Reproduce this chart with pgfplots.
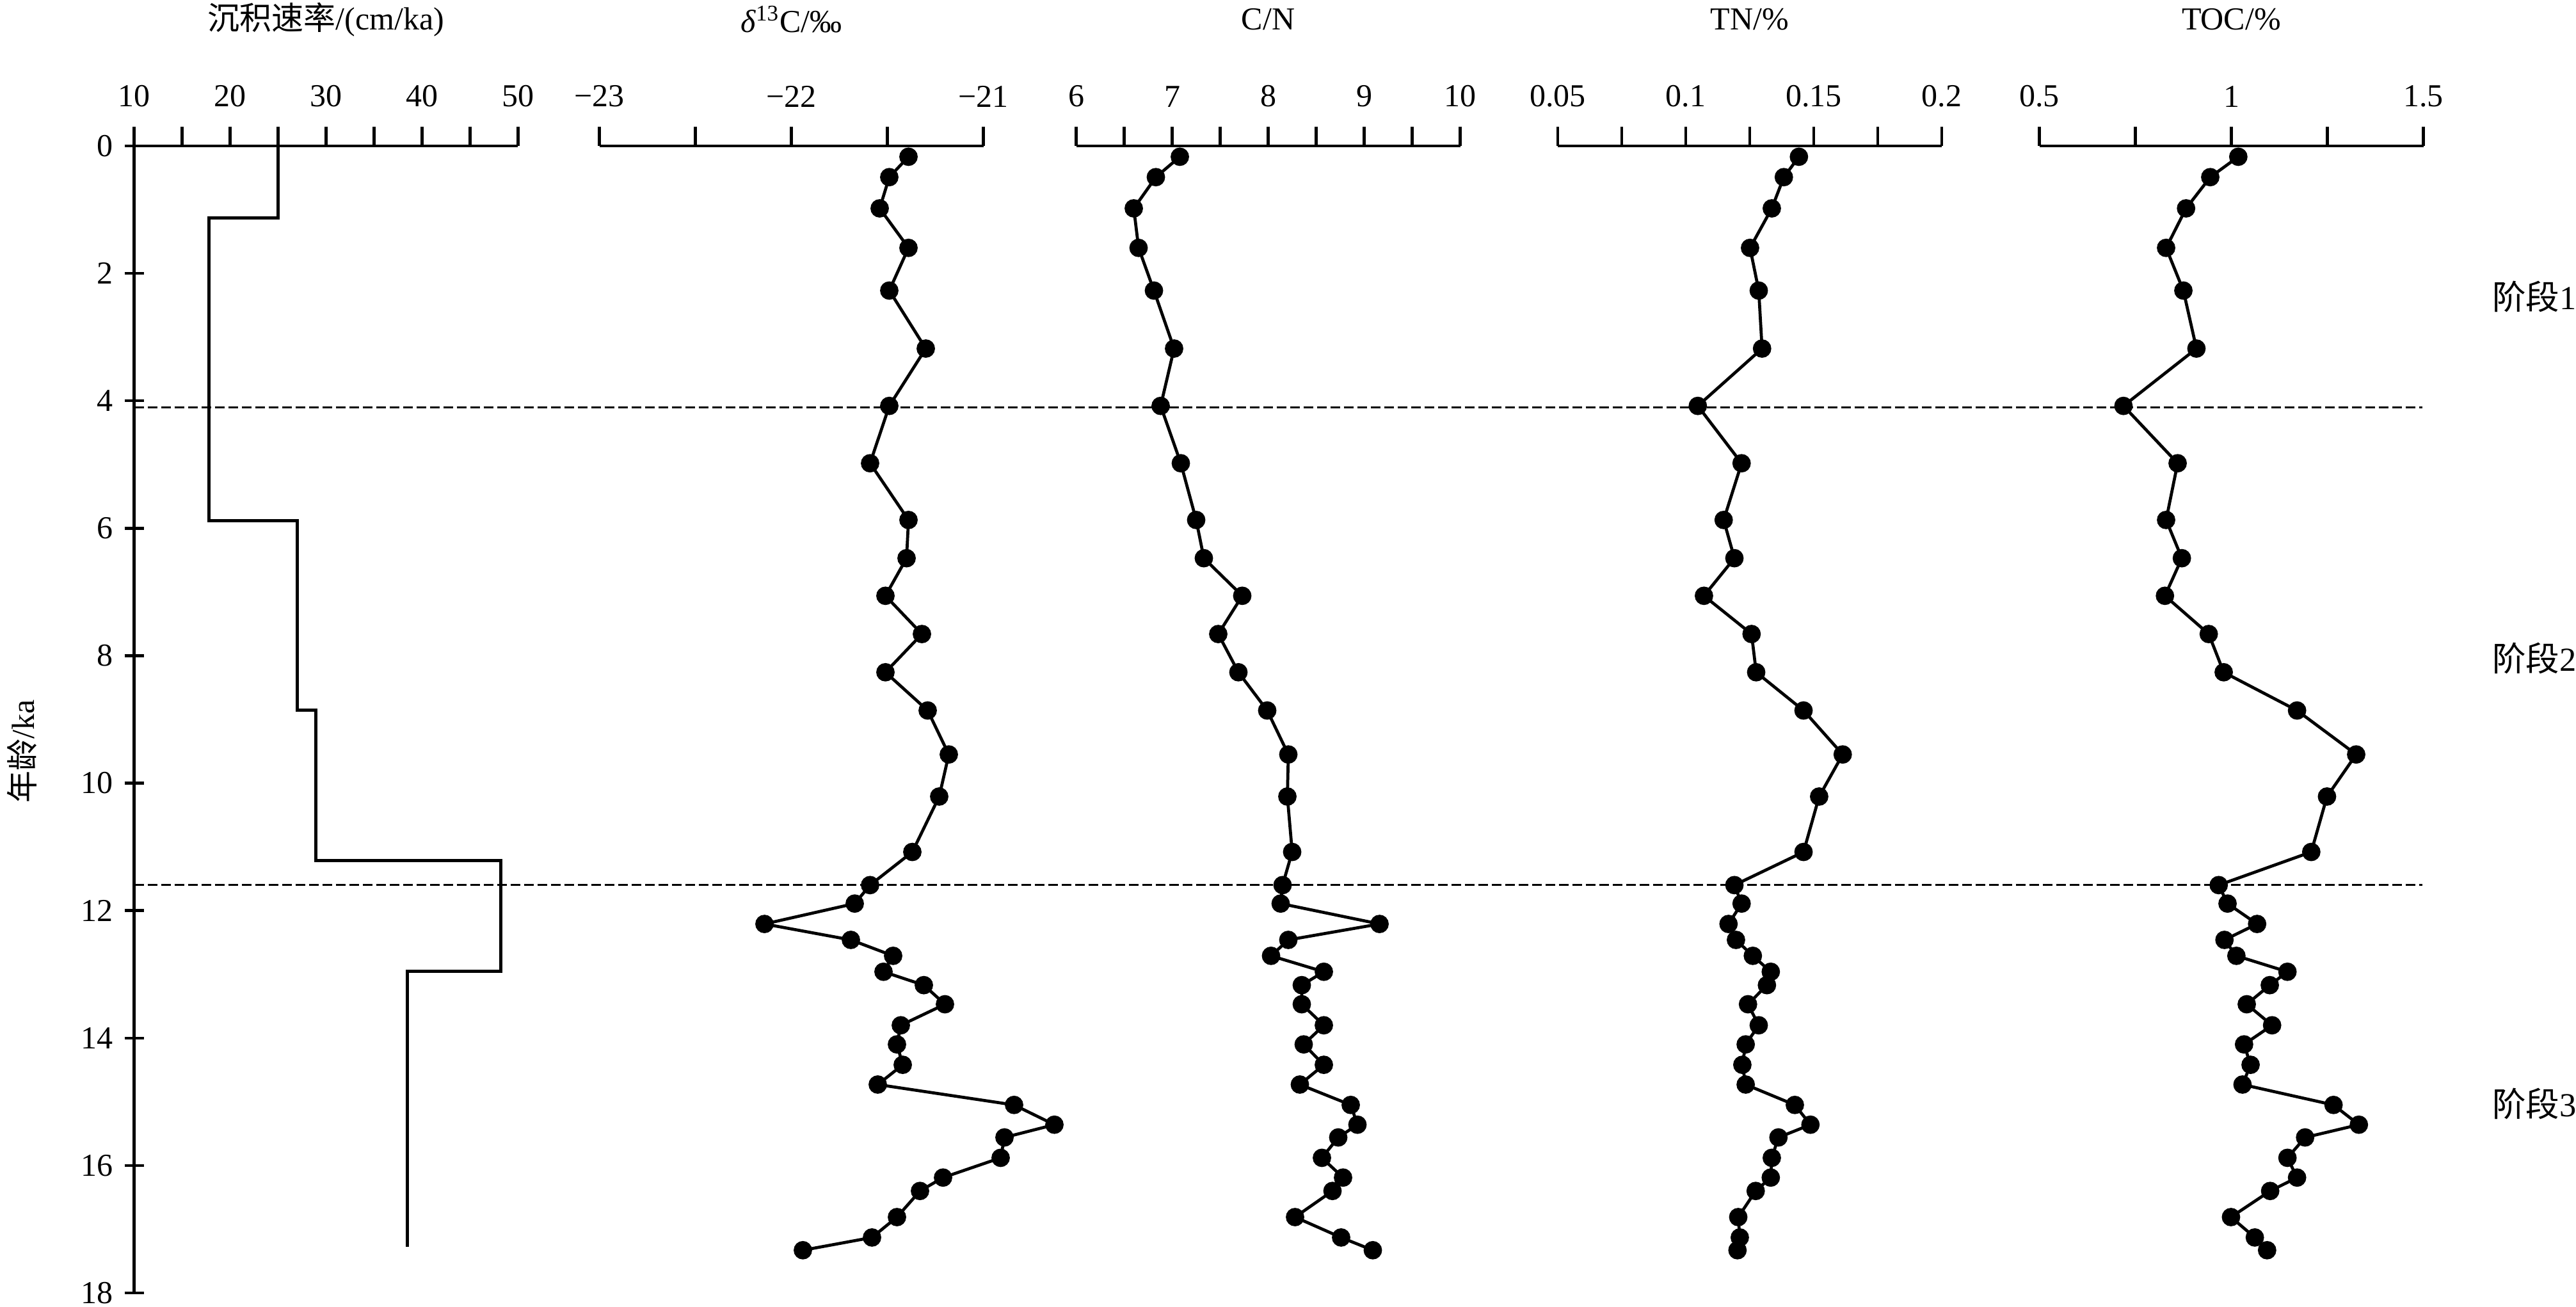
\documentclass[border=0pt]{standalone}
\usepackage{fontspec}
\setmainfont{Liberation Serif}
\newfontfamily\cjk{Noto Sans CJK SC}
\usepackage{pgfplots}
\pgfplotsset{compat=1.18}
\usepackage{pgfplotstable}

\pgfplotstableread{
age d13C CN TN TOC
0.17 -21.39 7.08 0.1442 1.018
0.49 -21.49 6.83 0.1383 0.945
0.98 -21.54 6.60 0.1336 0.882
1.60 -21.39 6.65 0.1251 0.830
2.27 -21.49 6.81 0.1285 0.875
3.18 -21.30 7.02 0.1298 0.909
4.08 -21.49 6.88 0.1047 0.719
4.98 -21.59 7.09 0.1218 0.860
5.87 -21.39 7.25 0.1148 0.830
6.47 -21.40 7.33 0.1190 0.871
7.06 -21.51 7.73 0.1071 0.827
7.66 -21.32 7.48 0.1257 0.941
8.26 -21.51 7.69 0.1275 0.980
8.86 -21.29 7.99 0.1460 1.171
9.55 -21.18 8.21 0.1613 1.325
10.21 -21.23 8.20 0.1521 1.249
11.08 -21.37 8.25 0.1460 1.208
11.60 -21.59 8.15 0.1190 0.967
11.89 -21.67 8.13 0.1218 0.990
12.21 -22.14 9.16 0.1167 1.067
12.46 -21.69 8.21 0.1196 0.982
12.71 -21.47 8.03 0.1262 1.013
12.96 -21.52 8.58 0.1332 1.146
13.17 -21.31 8.35 0.1317 1.100
13.47 -21.20 8.35 0.1243 1.040
13.80 -21.43 8.58 0.1285 1.106
14.10 -21.45 8.37 0.1234 1.033
14.42 -21.42 8.58 0.1221 1.050
14.73 -21.55 8.33 0.1234 1.029
15.05 -20.84 8.86 0.1426 1.266
15.36 -20.63 8.93 0.1487 1.332
15.56 -20.89 8.73 0.1362 1.192
15.88 -20.91 8.56 0.1336 1.146
16.19 -21.21 8.78 0.1332 1.171
16.40 -21.33 8.67 0.1273 1.101
16.81 -21.45 8.28 0.1205 0.999
17.13 -21.58 8.76 0.1211 1.061
17.33 -21.94 9.09 0.1202 1.093
}\data

\pgfplotsset{
  panel/.style={
    scale only axis, width=120pt, height=358.4pt, anchor=center,
    y dir=reverse, ymin=0, ymax=18,
    axis x line=top,
    tick align=outside, major tick length=6pt, minor tick length=6pt,
    tick style={black, line width=0.9pt},
    clip=false,
    /pgf/number format/assume math mode=true,
    ticklabel style={font=\fontsize{10}{12}\selectfont},
    xticklabel style={yshift=2.6pt},
  },
  nolinearrow/.style={axis line style={-, line width=0.9pt, black},
    x axis line style={-}, y axis line style={-}},
  noy/.style={axis y line=none, ytick=\empty},
  series/.style={black, line width=0.95pt, mark=*, mark size=2.4pt, mark options={solid, fill=black}},
}
\tikzset{ttl/.style={font=\fontsize{10}{12}\selectfont, anchor=center}}

\begin{document}
\begin{tikzpicture}
\useasboundingbox (0,0) rectangle (805pt,408.4pt);

% panel 1: sedimentation rate
\begin{axis}[panel, at={(101.9pt,183.6pt)}, xmin=10, xmax=50,
  xtick={10,20,30,40,50}, minor xtick={15,25,35,45},
  axis y line=left, ytick={0,2,...,18}, nolinearrow]
  \addplot[black, line width=1pt] coordinates {
    (25,0) (25,1.13) (17.8,1.13) (17.8,5.88) (27.0,5.88) (27.0,8.85)
    (28.9,8.85) (28.9,11.21) (48.2,11.21) (48.2,12.95) (38.5,12.95) (38.5,17.28)};
  \addplot[black, line width=0.6pt, dash pattern=on 3pt off 1.2pt] coordinates {(10,4.1) (248.37,4.1)};
  \addplot[black, line width=0.6pt, dash pattern=on 3pt off 1.2pt] coordinates {(10,11.6) (248.37,11.6)};
  \node[ttl] at ([yshift=39.5pt]axis cs:30,0) {{\cjk 沉积速率}/(cm/ka)};
  \node[ttl, rotate=90] at ([xshift=-35pt]axis cs:10,9.5) {{\cjk 年龄}/ka};
\end{axis}

% panel 2: d13C
\begin{axis}[panel, noy, nolinearrow, at={(247.3pt,183.6pt)}, xmin=-23, xmax=-21,
  xtick={-23,-22,-21}, xticklabels={−23,−22,−21}, minor xtick={-22.5,-21.5}]
  \addplot[series] table[x=d13C, y=age] {\data};
  \node[ttl] at ([yshift=39.5pt]axis cs:-22,0) {\textit{δ}\textsuperscript{13}C/‰};
\end{axis}

% panel 3: C/N
\begin{axis}[panel, noy, nolinearrow, at={(396.3pt,183.6pt)}, xmin=6, xmax=10,
  xtick={6,7,8,9,10}, minor xtick={6.5,7.5,8.5,9.5}]
  \addplot[series] table[x=CN, y=age] {\data};
  \node[ttl] at ([yshift=39.5pt]axis cs:8,0) {C/N};
\end{axis}

% panel 4: TN
\begin{axis}[panel, noy, nolinearrow, at={(546.8pt,183.6pt)}, xmin=0.05, xmax=0.2,
  xtick={0.05,0.1,0.15,0.2}, xticklabels={0.05,0.1,0.15,0.2}, minor xtick={0.075,0.125,0.175}]
  \addplot[series] table[x=TN, y=age] {\data};
  \node[ttl] at ([yshift=39.5pt]axis cs:0.125,0) {TN/\%};
\end{axis}

% panel 5: TOC
\begin{axis}[panel, noy, nolinearrow, at={(697.3pt,183.6pt)}, xmin=0.5, xmax=1.5,
  xtick={0.5,1,1.5}, xticklabels={0.5,1,1.5}, minor xtick={0.75,1.25}]
  \addplot[series] table[x=TOC, y=age] {\data};
  \node[ttl] at ([yshift=39.5pt]axis cs:1,0) {TOC/\%};
  \node[anchor=west, inner sep=0pt, font=\fontsize{10.5}{12}\selectfont] at (axis cs:1.678,2.37) {{\cjk 阶段}1};
  \node[anchor=west, inner sep=0pt, font=\fontsize{10.5}{12}\selectfont] at (axis cs:1.678,8.04) {{\cjk 阶段}2};
  \node[anchor=west, inner sep=0pt, font=\fontsize{10.5}{12}\selectfont] at (axis cs:1.678,15.03) {{\cjk 阶段}3};
\end{axis}
\end{tikzpicture}
\end{document}
